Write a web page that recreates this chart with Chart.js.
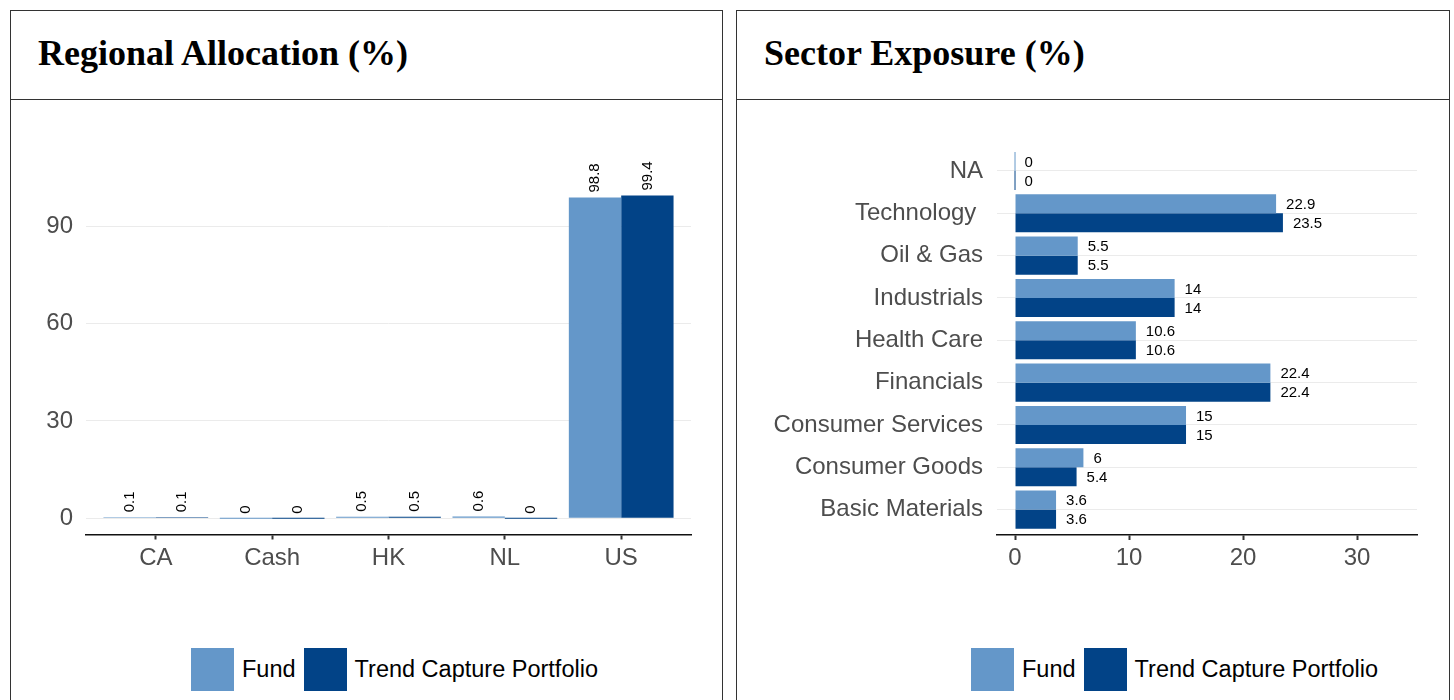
<!DOCTYPE html>
<html>
<head>
<meta charset="utf-8">
<script src="https://cdn.jsdelivr.net/npm/chart.js@4"></script>
<style>
  body { margin:0; width:1454px; height:700px; overflow:hidden; background:#fff; position:relative; }
  .panel { position:absolute; top:10px; height:720px; border:1px solid #333; background:#fff; }
  .panel .head { height:84px; padding-bottom:4px; border-bottom:1px solid #333; display:flex; align-items:center; padding-left:27px;
    font-family:"Liberation Serif","Times New Roman",serif; font-weight:bold; font-size:36px; color:#000; }
  canvas { position:absolute; top:100px; }
  .legend { position:absolute; top:648px; height:43px; display:flex; align-items:center;
    font-family:"Liberation Sans",Arial,sans-serif; font-size:23.5px; color:#000; }
  .legend .key { width:43px; height:43px; margin-right:8px; }
  .legend .lab { margin-right:8px; }
</style>
</head>
<body>
<div class="panel" style="left:10px; width:711px;"><div class="head">Regional Allocation (%)</div></div>
<div class="panel" style="left:736px; width:712px;"><div class="head">Sector Exposure (%)</div></div>
<canvas id="regionChart" width="710" height="540" style="left:11px;"></canvas>
<canvas id="sectorChart" width="712" height="540" style="left:737px;"></canvas>
<div class="legend" id="legendLeft" style="left:191px;"></div>
<div class="legend" id="legendRight" style="left:971px;"></div>
<script>
// Data
const seriesNames = ['Fund', 'Trend Capture Portfolio'];
const seriesColors = ['#6497c9', '#024387'];

const regionCats = ['CA', 'Cash', 'HK', 'NL', 'US'];
const regionFund = [0.1, 0, 0.5, 0.6, 98.8];
const regionTcp = [0.1, 0, 0.5, 0, 99.4];
const regionTicks = [0, 30, 60, 90];

const sectorCats = ['NA', 'Technology ', 'Oil & Gas', 'Industrials', 'Health Care', 'Financials', 'Consumer Services', 'Consumer Goods', 'Basic Materials'];
const sectorFund = [0, 22.9, 5.5, 14, 10.6, 22.4, 15, 6, 3.6];
const sectorTcp = [0, 23.5, 5.5, 14, 10.6, 22.4, 15, 5.4, 3.6];
const sectorTicks = [0, 10, 20, 30];

const fam = '"Liberation Sans", Arial, Helvetica, sans-serif';
const axisGrey = '#4d4d4d';

// Labels next to bars
const valueLabels = {
  id: 'valueLabels',
  afterDatasetsDraw(chart, args, opts) {
    const ctx = chart.ctx;
    ctx.save();
    ctx.font = '15px ' + fam;
    ctx.fillStyle = '#000';
    ctx.textAlign = 'left';
    ctx.textBaseline = 'middle';
    chart.data.datasets.forEach((ds, di) => {
      chart.getDatasetMeta(di).data.forEach((bar, i) => {
        const txt = String(opts.horizontal ? ds.data[i].x : ds.data[i].y);
        if (opts.horizontal) {
          ctx.fillText(txt, bar.x + 10, bar.y + 1);
        } else {
          ctx.save();
          ctx.translate(bar.x, bar.y - 5);
          ctx.rotate(-Math.PI / 2);
          ctx.fillText(txt, 0, 0);
          ctx.restore();
        }
      });
    });
    ctx.restore();
  }
};

function makeSets(a, b, horizontal) {
  return [a, b].map((vals, k) => ({
    label: seriesNames[k],
    data: vals.map((v, i) => horizontal ? { x: v, y: i } : { x: i, y: v }),
    backgroundColor: seriesColors[k],
    borderWidth: 0,
    minBarLength: 1,
    categoryPercentage: 0.9,
    barPercentage: 1.0
  }));
}

// x axis: black line with short tick marks, no grid on the plot
const tickGrid = () => ({ display: true, offset: false, drawOnChartArea: false, drawTicks: true, tickLength: 5, tickWidth: 2, tickColor: '#333', color: '#333' });
const axisBorder = () => ({ display: true, color: '#111', width: 1.5 });

// Regional chart
new Chart(document.getElementById('regionChart'), {
  type: 'bar',
  data: { datasets: makeSets(regionFund, regionTcp, false) },
  options: {
    responsive: false,
    animation: false,
    layout: { padding: { top: 79.4, right: 30, bottom: 45.5, left: 0 } },
    plugins: { legend: { display: false }, tooltip: { enabled: false }, valueLabels: { horizontal: false } },
    scales: {
      x: {
        type: 'linear', min: -0.6, max: 4.6, offset: false,
        afterBuildTicks: s => { s.ticks = regionCats.map((c, i) => ({ value: i })); },
        afterFit: s => { s.height = 60; },
        ticks: { callback: v => regionCats[v], color: axisGrey, font: { size: 24, family: fam }, padding: 4, autoSkip: false, maxRotation: 0 },
        grid: tickGrid(),
        border: axisBorder()
      },
      y: {
        min: -4.97, max: 104.37,
        afterBuildTicks: s => { s.ticks = regionTicks.map(v => ({ value: v })); },
        afterFit: s => { s.width = 75; },
        ticks: { color: axisGrey, font: { size: 24, family: fam }, padding: 13 },
        grid: { color: '#ebebeb', drawTicks: false, tickLength: 0 },
        border: { display: false }
      }
    }
  },
  plugins: [valueLabels]
});

// Sector chart
new Chart(document.getElementById('sectorChart'), {
  type: 'bar',
  data: { datasets: makeSets(sectorFund, sectorTcp, true) },
  options: {
    indexAxis: 'y',
    responsive: false,
    animation: false,
    layout: { padding: { top: 45.6, right: 32, bottom: 45, left: 0 } },
    plugins: { legend: { display: false }, tooltip: { enabled: false }, valueLabels: { horizontal: true } },
    scales: {
      y: {
        type: 'linear', min: -0.6, max: 8.6, reverse: true, offset: false,
        afterBuildTicks: s => { s.ticks = sectorCats.map((c, i) => ({ value: i })); },
        afterFit: s => { s.width = 260; },
        ticks: { callback: v => sectorCats[v], color: axisGrey, font: { size: 24, family: fam }, padding: 14, autoSkip: false },
        grid: { offset: false, color: '#ebebeb', drawTicks: false, tickLength: 0 },
        border: { display: false }
      },
      x: {
        type: 'linear', min: -1.58, max: 35.26,
        afterBuildTicks: s => { s.ticks = sectorTicks.map(v => ({ value: v })); },
        afterFit: s => { s.height = 60; },
        ticks: { color: axisGrey, font: { size: 24, family: fam }, padding: 4, maxRotation: 0 },
        grid: tickGrid(),
        border: axisBorder()
      }
    }
  },
  plugins: [valueLabels]
});

// Legends
['legendLeft', 'legendRight'].forEach(id => {
  const box = document.getElementById(id);
  seriesNames.forEach((name, k) => {
    box.innerHTML += `<span class="key" style="background:${seriesColors[k]}"></span><span class="lab">${name}</span>`;
  });
});
</script>
</body>
</html>
